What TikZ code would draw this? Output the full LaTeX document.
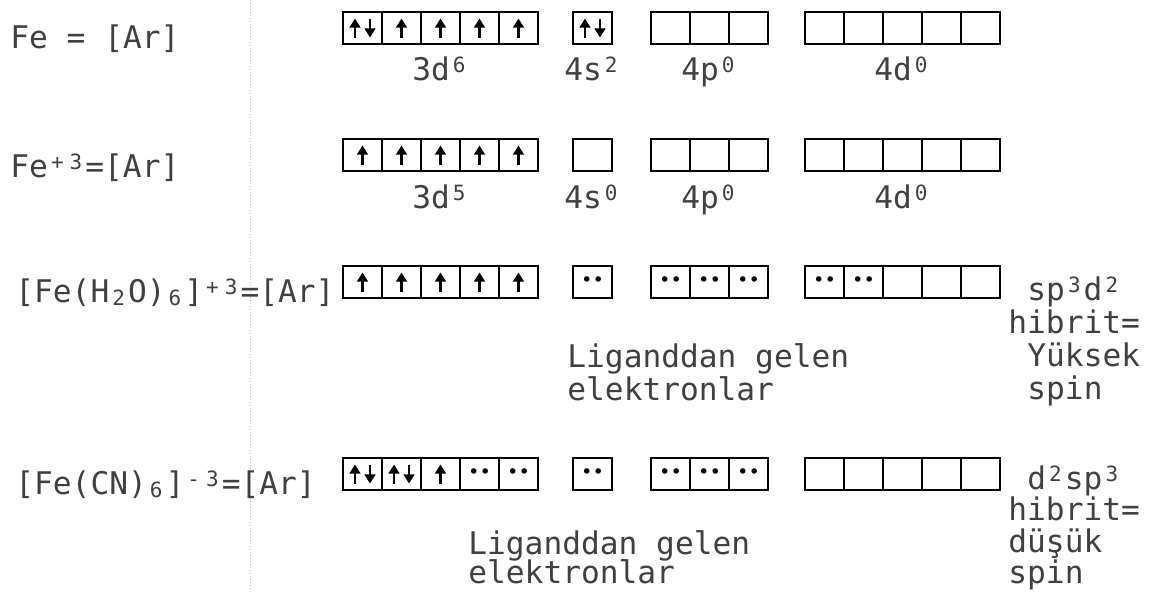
\documentclass[tikz,border=0pt]{standalone}
\usepackage{fontspec}
\usetikzlibrary{arrows.meta}
\setmainfont{DejaVu Sans Mono}
\begin{document}
\begin{tikzpicture}[
  x=0.5pt, y=-0.5pt,
  font=\fontsize{15.6}{16.5}\selectfont,
  every node/.style={text=black!75},
  cellbox/.style={draw=black, line width=1pt, minimum width=19.5pt, minimum height=16pt,
    inner sep=0pt, outer sep=0pt, anchor=north west},
  txt/.style={anchor=base west, inner sep=0pt},
  orb/.style={anchor=base, inner sep=0pt},
  spinarrow/.style={draw=black, line width=1.3pt, -{Triangle[length=4.6pt,width=5.4pt]}},
]
\def\wcell{39}
\def\hi#1{\makebox[0.6em]{\raisebox{4pt}{\fontsize{10.5}{10.5}\selectfont #1}}}
\def\lo#1{\makebox[0.6em]{\raisebox{-1.5pt}{\fontsize{10.5}{10.5}\selectfont #1}}}
\def\eu{\tikz\draw[spinarrow] (0pt,0pt) -- (0pt,9.5pt);}
\def\eud{\tikz{\draw[spinarrow] (0pt,0pt) -- (0pt,9.5pt);
  \draw[spinarrow] (7.5pt,9.5pt) -- (7.5pt,0pt);}}
\def\ep{{\fontsize{9.5}{9.5}\selectfont\color{black}••}}
\def\orbs#1#2#3#4{\foreach \c [count=\i] in {#4}
  \node[cellbox] (#1\i) at ({#2+\wcell*(\i-1)},#3) {\c};}

\path[use as bounding box] (0,0) rectangle (1153,591);

\draw[gray!55, densely dotted, line width=0.5pt] (250,0) -- (250,591);

% Fe
\node[txt] (fe) at (10,48) {Fe = [Ar]};
\orbs{fe3d}{343}{12}{\eud,\eu,\eu,\eu,\eu}
\orbs{fe4s}{573}{12}{\eud}
\orbs{fe4p}{651}{12}{{},{},{}}
\orbs{fe4d}{805}{12}{{},{},{},{},{}}
\node[orb] (fe3dl) at (440.5,80) {3d\hi{6}};
\node[orb] (fe4sl) at (592.5,80) {4s\hi{2}};
\node[orb] (fe4pl) at (709.5,80) {4p\hi{0}};
\node[orb] (fe4dl) at (902.5,80) {4d\hi{0}};

% Fe+3
\node[txt] (fei) at (10,177) {Fe\hi{+}\hi{3}=[Ar]};
\orbs{fei3d}{343}{139}{\eu,\eu,\eu,\eu,\eu}
\orbs{fei4s}{573}{139}{{}}
\orbs{fei4p}{651}{139}{{},{},{}}
\orbs{fei4d}{805}{139}{{},{},{},{},{}}
\node[orb] (fei3dl) at (440.5,208) {3d\hi{5}};
\node[orb] (fei4sl) at (592.5,208) {4s\hi{0}};
\node[orb] (fei4pl) at (709.5,208) {4p\hi{0}};
\node[orb] (fei4dl) at (902.5,208) {4d\hi{0}};

% [Fe(H2O)6]+3
\node[txt] (aq) at (15,302) {[Fe(H\lo{2}O)\lo{6}]\hi{+}\hi{3}=[Ar]};
\orbs{aq3d}{343}{266}{\eu,\eu,\eu,\eu,\eu}
\orbs{aq4s}{573}{266}{\ep}
\orbs{aq4p}{651}{266}{\ep,\ep,\ep}
\orbs{aq4d}{805}{266}{\ep,\ep,{},{},{}}
\node[txt] (aqlig1) at (567,367) {Liganddan gelen};
\node[txt] (aqlig2) at (567,400) {elektronlar};
\node[txt] (aqhyb1) at (1027,300) {sp\hi{3}d\hi{2}};
\node[txt] (aqhyb2) at (1008,333) {hibrit=};
\node[txt] (aqhyb3) at (1027,366) {Yüksek};
\node[txt] (aqhyb4) at (1027,399) {spin};

% [Fe(CN)6]-3
\node[txt] (cn) at (15,494) {[Fe(CN)\lo{6}]\hi{-}\hi{3}=[Ar]};
\orbs{cn3d}{343}{458}{\eud,\eud,\eu,\ep,\ep}
\orbs{cn4s}{573}{458}{\ep}
\orbs{cn4p}{651}{458}{\ep,\ep,\ep}
\orbs{cn4d}{805}{458}{{},{},{},{},{}}
\node[txt] (cnlig1) at (468,554) {Liganddan gelen};
\node[txt] (cnlig2) at (468,583) {elektronlar};
\node[txt] (cnhyb1) at (1027,489) {d\hi{2}sp\hi{3}};
\node[txt] (cnhyb2) at (1008,520) {hibrit=};
\node[txt] (cnhyb3) at (1008,552) {düşük};
\node[txt] (cnhyb4) at (1008,583) {spin};
\end{tikzpicture}
\end{document}
